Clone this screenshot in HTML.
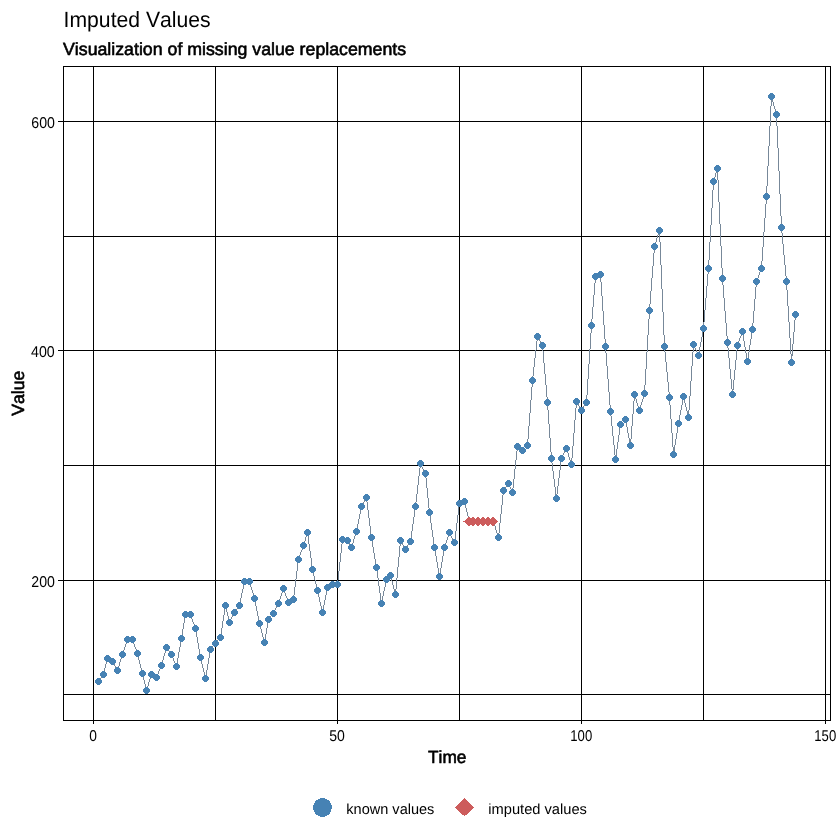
<!DOCTYPE html>
<html lang="en"><head><meta charset="utf-8"><title>Imputed Values</title>
<style>html,body{margin:0;padding:0;background:#fff}body{width:840px;height:840px;overflow:hidden}svg{display:block}text{font-family:"Liberation Sans",Arial,Helvetica,sans-serif;fill:#000;text-rendering:geometricPrecision;font-kerning:none}.b{stroke:#000;stroke-width:0.6px;stroke-linejoin:round}</style></head><body>
<svg width="840" height="840" viewBox="0 0 840 840">
<rect x="0" y="0" width="840" height="840" fill="#fff"/>
<g shape-rendering="crispEdges" fill="#000">
<rect x="93" y="66" width="1" height="655"/>
<rect x="215" y="66" width="1" height="655"/>
<rect x="337" y="66" width="1" height="655"/>
<rect x="459" y="66" width="1" height="655"/>
<rect x="581" y="66" width="1" height="655"/>
<rect x="703" y="66" width="1" height="655"/>
<rect x="825" y="66" width="1" height="655"/>
<rect x="63" y="121" width="768" height="1"/>
<rect x="63" y="236" width="768" height="1"/>
<rect x="63" y="350" width="768" height="1"/>
<rect x="63" y="465" width="768" height="1"/>
<rect x="63" y="580" width="768" height="1"/>
<rect x="63" y="694" width="768" height="1"/>
<rect x="63" y="66" width="768" height="1"/><rect x="63" y="720" width="768" height="1"/>
<rect x="63" y="66" width="1" height="655"/><rect x="830" y="66" width="1" height="655"/>
<rect x="93" y="721" width="1" height="3"/>
<rect x="337" y="721" width="1" height="3"/>
<rect x="581" y="721" width="1" height="3"/>
<rect x="825" y="721" width="1" height="3"/>
<rect x="58" y="121" width="5" height="1"/>
<rect x="58" y="350" width="5" height="1"/>
<rect x="58" y="580" width="5" height="1"/>
</g>
<g id="series-line" fill="#778899" shape-rendering="crispEdges">
<path d="M98,681h1v1h-1zM99,679h1v2h-1zM100,678h1v1h-1zM101,677h1v1h-1zM102,675h1v2h-1zM103,674h1v1h-1z"/>
<path d="M103,672h1v3h-1zM104,668h1v4h-1zM105,664h1v4h-1zM106,660h1v4h-1zM107,658h1v2h-1z"/>
<path d="M107,658v1h1v-1zM108,659v1h2v-1zM110,660v1h2v-1zM112,661v1h1v-1z"/>
<path d="M112,661h1v1h-1zM113,662h1v2h-1zM114,664h1v2h-1zM115,666h1v2h-1zM116,668h1v2h-1zM117,670h1v1h-1z"/>
<path d="M117,669h1v2h-1zM118,666h1v3h-1zM119,662h1v4h-1zM120,659h1v3h-1zM121,656h1v3h-1zM122,654h1v2h-1z"/>
<path d="M122,653h1v2h-1zM123,650h1v3h-1zM124,647h1v3h-1zM125,644h1v3h-1zM126,641h1v3h-1zM127,639h1v2h-1z"/>
<path d="M127,639v1h6v-1z"/>
<path d="M132,639h1v2h-1zM133,641h1v3h-1zM134,644h1v3h-1zM135,647h1v2h-1zM136,649h1v3h-1zM137,652h1v2h-1z"/>
<path d="M137,653h1v3h-1zM138,656h1v4h-1zM139,660h1v4h-1zM140,664h1v4h-1zM141,668h1v4h-1zM142,672h1v2h-1z"/>
<path d="M142,673h1v3h-1zM143,676h1v4h-1zM144,680h1v4h-1zM145,684h1v4h-1zM146,688h1v3h-1z"/>
<path d="M146,689h1v2h-1zM147,686h1v3h-1zM148,682h1v4h-1zM149,679h1v3h-1zM150,676h1v3h-1zM151,674h1v2h-1z"/>
<path d="M151,674v1h1v-1zM152,675v1h2v-1zM154,676v1h2v-1zM156,677v1h1v-1z"/>
<path d="M156,676h1v2h-1zM157,674h1v2h-1zM158,671h1v3h-1zM159,669h1v2h-1zM160,667h1v2h-1zM161,665h1v2h-1z"/>
<path d="M161,664h1v2h-1zM162,660h1v4h-1zM163,656h1v4h-1zM164,653h1v3h-1zM165,649h1v4h-1zM166,647h1v2h-1z"/>
<path d="M166,647h1v1h-1zM167,648h1v2h-1zM168,650h1v1h-1zM169,651h1v1h-1zM170,652h1v2h-1zM171,654h1v1h-1z"/>
<path d="M171,654h1v2h-1zM172,656h1v2h-1zM173,658h1v3h-1zM174,661h1v2h-1zM175,663h1v2h-1zM176,665h1v2h-1z"/>
<path d="M176,664h1v3h-1zM177,658h1v6h-1zM178,652h1v6h-1zM179,647h1v5h-1zM180,641h1v6h-1zM181,638h1v3h-1z"/>
<path d="M181,635h1v4h-1zM182,629h1v6h-1zM183,623h1v6h-1zM184,617h1v6h-1zM185,614h1v3h-1z"/>
<path d="M185,614v1h6v-1z"/>
<path d="M190,614h1v2h-1zM191,616h1v3h-1zM192,619h1v3h-1zM193,622h1v2h-1zM194,624h1v3h-1zM195,627h1v2h-1z"/>
<path d="M195,628h1v3h-1zM196,631h1v6h-1zM197,637h1v6h-1zM198,643h1v6h-1zM199,649h1v6h-1zM200,655h1v3h-1z"/>
<path d="M200,657h1v3h-1zM201,660h1v4h-1zM202,664h1v4h-1zM203,668h1v4h-1zM204,672h1v4h-1zM205,676h1v3h-1z"/>
<path d="M205,676h1v3h-1zM206,670h1v6h-1zM207,664h1v6h-1zM208,658h1v6h-1zM209,652h1v6h-1zM210,649h1v3h-1z"/>
<path d="M210,649h1v1h-1zM211,648h1v1h-1zM212,646h1v2h-1zM213,645h1v1h-1zM214,644h1v1h-1zM215,643h1v1h-1z"/>
<path d="M215,643h1v1h-1zM216,642h1v1h-1zM217,640h1v2h-1zM218,639h1v1h-1zM219,638h1v1h-1zM220,637h1v1h-1z"/>
<path d="M220,634h1v4h-1zM221,628h1v6h-1zM222,621h1v7h-1zM223,615h1v6h-1zM224,609h1v6h-1zM225,605h1v4h-1z"/>
<path d="M225,605h1v3h-1zM226,608h1v4h-1zM227,612h1v4h-1zM228,616h1v4h-1zM229,620h1v3h-1z"/>
<path d="M229,621h1v2h-1zM230,619h1v2h-1zM231,617h1v2h-1zM232,615h1v2h-1zM233,613h1v2h-1zM234,612h1v1h-1z"/>
<path d="M234,612h1v1h-1zM235,610h1v2h-1zM236,609h1v1h-1zM237,608h1v1h-1zM238,606h1v2h-1zM239,605h1v1h-1z"/>
<path d="M239,603h1v3h-1zM240,598h1v5h-1zM241,593h1v5h-1zM242,589h1v4h-1zM243,584h1v5h-1zM244,581h1v3h-1z"/>
<path d="M244,581v1h6v-1z"/>
<path d="M249,581h1v2h-1zM250,583h1v4h-1zM251,587h1v3h-1zM252,590h1v3h-1zM253,593h1v4h-1zM254,597h1v2h-1z"/>
<path d="M254,598h1v3h-1zM255,601h1v5h-1zM256,606h1v5h-1zM257,611h1v5h-1zM258,616h1v5h-1zM259,621h1v3h-1z"/>
<path d="M259,623h1v2h-1zM260,625h1v4h-1zM261,629h1v4h-1zM262,633h1v4h-1zM263,637h1v4h-1zM264,641h1v2h-1z"/>
<path d="M264,640h1v3h-1zM265,634h1v6h-1zM266,628h1v6h-1zM267,622h1v6h-1zM268,619h1v3h-1z"/>
<path d="M268,619h1v1h-1zM269,618h1v1h-1zM270,616h1v2h-1zM271,615h1v1h-1zM272,614h1v1h-1zM273,613h1v1h-1z"/>
<path d="M273,612h1v2h-1zM274,610h1v2h-1zM275,608h1v2h-1zM276,606h1v2h-1zM277,604h1v2h-1zM278,603h1v1h-1z"/>
<path d="M278,602h1v2h-1zM279,599h1v3h-1zM280,596h1v3h-1zM281,593h1v3h-1zM282,590h1v3h-1zM283,588h1v2h-1z"/>
<path d="M283,588h1v2h-1zM284,590h1v3h-1zM285,593h1v3h-1zM286,596h1v2h-1zM287,598h1v3h-1zM288,601h1v2h-1z"/>
<path d="M288,602v1h1v-1zM289,601v1h2v-1zM291,600v1h2v-1zM293,599v1h1v-1z"/>
<path d="M293,595h1v5h-1zM294,587h1v8h-1zM295,579h1v8h-1zM296,571h1v8h-1zM297,563h1v8h-1zM298,559h1v4h-1z"/>
<path d="M298,558h1v2h-1zM299,555h1v3h-1zM300,552h1v3h-1zM301,550h1v2h-1zM302,547h1v3h-1zM303,545h1v2h-1z"/>
<path d="M303,544h1v2h-1zM304,541h1v3h-1zM305,537h1v4h-1zM306,534h1v3h-1zM307,532h1v2h-1z"/>
<path d="M307,532h1v4h-1zM308,536h1v8h-1zM309,544h1v7h-1zM310,551h1v7h-1zM311,558h1v8h-1zM312,566h1v4h-1z"/>
<path d="M312,569h1v3h-1zM313,572h1v4h-1zM314,576h1v4h-1zM315,580h1v4h-1zM316,584h1v4h-1zM317,588h1v3h-1z"/>
<path d="M317,590h1v3h-1zM318,593h1v4h-1zM319,597h1v5h-1zM320,602h1v4h-1zM321,606h1v4h-1zM322,610h1v3h-1z"/>
<path d="M322,610h1v3h-1zM323,605h1v5h-1zM324,600h1v5h-1zM325,595h1v5h-1zM326,590h1v5h-1zM327,587h1v3h-1z"/>
<path d="M327,587v1h1v-1zM328,586v1h2v-1zM330,585v1h2v-1zM332,584v1h1v-1z"/>
<path d="M332,584v1h6v-1z"/>
<path d="M337,580h1v5h-1zM338,571h1v9h-1zM339,562h1v9h-1zM340,553h1v9h-1zM341,544h1v9h-1zM342,539h1v5h-1z"/>
<path d="M342,539v1h3v-1zM345,540v1h3v-1z"/>
<path d="M347,540h1v1h-1zM348,541h1v2h-1zM349,543h1v2h-1zM350,545h1v2h-1zM351,547h1v1h-1z"/>
<path d="M351,546h1v2h-1zM352,543h1v3h-1zM353,539h1v4h-1zM354,536h1v3h-1zM355,533h1v3h-1zM356,531h1v2h-1z"/>
<path d="M356,529h1v3h-1zM357,524h1v5h-1zM358,519h1v5h-1zM359,514h1v5h-1zM360,509h1v5h-1zM361,506h1v3h-1z"/>
<path d="M361,506h1v1h-1zM362,504h1v2h-1zM363,502h1v2h-1zM364,500h1v2h-1zM365,498h1v2h-1zM366,497h1v1h-1z"/>
<path d="M366,497h1v5h-1zM367,502h1v8h-1zM368,510h1v8h-1zM369,518h1v8h-1zM370,526h1v8h-1zM371,534h1v4h-1z"/>
<path d="M371,537h1v4h-1zM372,541h1v6h-1zM373,547h1v6h-1zM374,553h1v6h-1zM375,559h1v6h-1zM376,565h1v3h-1z"/>
<path d="M376,567h1v4h-1zM377,571h1v7h-1zM378,578h1v8h-1zM379,586h1v7h-1zM380,593h1v7h-1zM381,600h1v4h-1z"/>
<path d="M381,601h1v3h-1zM382,596h1v5h-1zM383,591h1v5h-1zM384,587h1v4h-1zM385,582h1v5h-1zM386,579h1v3h-1z"/>
<path d="M386,579h1v1h-1zM387,578h1v1h-1zM388,577h1v1h-1zM389,576h1v1h-1zM390,575h1v1h-1z"/>
<path d="M390,575h1v2h-1zM391,577h1v4h-1zM392,581h1v4h-1zM393,585h1v4h-1zM394,589h1v4h-1zM395,593h1v2h-1z"/>
<path d="M395,589h1v6h-1zM396,578h1v11h-1zM397,567h1v11h-1zM398,557h1v10h-1zM399,546h1v11h-1zM400,540h1v6h-1z"/>
<path d="M400,540h1v1h-1zM401,541h1v2h-1zM402,543h1v2h-1zM403,545h1v2h-1zM404,547h1v2h-1zM405,549h1v1h-1z"/>
<path d="M405,549h1v1h-1zM406,547h1v2h-1zM407,545h1v2h-1zM408,544h1v1h-1zM409,542h1v2h-1zM410,541h1v1h-1z"/>
<path d="M410,538h1v4h-1zM411,531h1v7h-1zM412,524h1v7h-1zM413,517h1v7h-1zM414,510h1v7h-1zM415,506h1v4h-1z"/>
<path d="M415,502h1v5h-1zM416,494h1v8h-1zM417,485h1v9h-1zM418,476h1v9h-1zM419,468h1v8h-1zM420,463h1v5h-1z"/>
<path d="M420,463h1v2h-1zM421,465h1v2h-1zM422,467h1v2h-1zM423,469h1v2h-1zM424,471h1v2h-1zM425,473h1v1h-1z"/>
<path d="M425,473h1v5h-1zM426,478h1v10h-1zM427,488h1v10h-1zM428,498h1v10h-1zM429,508h1v5h-1z"/>
<path d="M429,512h1v4h-1zM430,516h1v7h-1zM431,523h1v7h-1zM432,530h1v7h-1zM433,537h1v7h-1zM434,544h1v4h-1z"/>
<path d="M434,547h1v3h-1zM435,550h1v6h-1zM436,556h1v6h-1zM437,562h1v6h-1zM438,568h1v6h-1zM439,574h1v3h-1z"/>
<path d="M439,574h1v3h-1zM440,568h1v6h-1zM441,562h1v6h-1zM442,556h1v6h-1zM443,550h1v6h-1zM444,547h1v3h-1z"/>
<path d="M444,546h1v2h-1zM445,543h1v3h-1zM446,540h1v3h-1zM447,537h1v3h-1zM448,534h1v3h-1zM449,532h1v2h-1z"/>
<path d="M449,532h1v2h-1zM450,534h1v2h-1zM451,536h1v2h-1zM452,538h1v2h-1zM453,540h1v2h-1zM454,542h1v1h-1z"/>
<path d="M454,539h1v4h-1zM455,531h1v8h-1zM456,523h1v8h-1zM457,515h1v8h-1zM458,507h1v8h-1zM459,503h1v4h-1z"/>
<path d="M459,503v1h2v-1zM461,502v1h2v-1zM463,501v1h2v-1z"/>
<path d="M464,501h1v3h-1zM465,504h1v4h-1zM466,508h1v4h-1zM467,512h1v4h-1zM468,516h1v4h-1zM469,520h1v2h-1z"/>
<path d="M469,521v1h5v-1z"/>
<path d="M473,521v1h6v-1z"/>
<path d="M478,521v1h6v-1z"/>
<path d="M483,521v1h6v-1z"/>
<path d="M488,521v1h6v-1z"/>
<path d="M493,521h1v2h-1zM494,523h1v3h-1zM495,526h1v4h-1zM496,530h1v3h-1zM497,533h1v3h-1zM498,536h1v2h-1z"/>
<path d="M498,533h1v5h-1zM499,523h1v10h-1zM500,514h1v9h-1zM501,505h1v9h-1zM502,495h1v10h-1zM503,490h1v5h-1z"/>
<path d="M503,490h1v1h-1zM504,488h1v2h-1zM505,487h1v1h-1zM506,486h1v1h-1zM507,484h1v2h-1zM508,483h1v1h-1z"/>
<path d="M508,483h1v2h-1zM509,485h1v2h-1zM510,487h1v2h-1zM511,489h1v2h-1zM512,491h1v2h-1z"/>
<path d="M512,488h1v5h-1zM513,479h1v9h-1zM514,469h1v10h-1zM515,460h1v9h-1zM516,451h1v9h-1zM517,446h1v5h-1z"/>
<path d="M517,446v1h1v-1zM518,447v1h1v-1zM519,448v1h2v-1zM521,449v1h1v-1zM522,450v1h1v-1z"/>
<path d="M522,450h1v1h-1zM523,449h1v1h-1zM524,448h1v1h-1zM525,447h1v1h-1zM526,446h1v1h-1zM527,445h1v1h-1z"/>
<path d="M527,439h1v7h-1zM528,426h1v13h-1zM529,413h1v13h-1zM530,400h1v13h-1zM531,387h1v13h-1zM532,380h1v7h-1z"/>
<path d="M532,376h1v5h-1zM533,367h1v9h-1zM534,358h1v9h-1zM535,350h1v8h-1zM536,341h1v9h-1zM537,336h1v5h-1z"/>
<path d="M537,336h1v1h-1zM538,337h1v2h-1zM539,339h1v2h-1zM540,341h1v2h-1zM541,343h1v2h-1zM542,345h1v1h-1z"/>
<path d="M542,345h1v6h-1zM543,351h1v12h-1zM544,363h1v11h-1zM545,374h1v11h-1zM546,385h1v12h-1zM547,397h1v6h-1z"/>
<path d="M547,402h1v8h-1zM548,410h1v14h-1zM549,424h1v14h-1zM550,438h1v14h-1zM551,452h1v7h-1z"/>
<path d="M551,458h1v5h-1zM552,463h1v8h-1zM553,471h1v8h-1zM554,479h1v8h-1zM555,487h1v8h-1zM556,495h1v4h-1z"/>
<path d="M556,494h1v5h-1zM557,486h1v8h-1zM558,478h1v8h-1zM559,470h1v8h-1zM560,462h1v8h-1zM561,458h1v4h-1z"/>
<path d="M561,457h1v2h-1zM562,455h1v2h-1zM563,453h1v2h-1zM564,451h1v2h-1zM565,449h1v2h-1zM566,448h1v1h-1z"/>
<path d="M566,448h1v2h-1zM567,450h1v3h-1zM568,453h1v4h-1zM569,457h1v3h-1zM570,460h1v3h-1zM571,463h1v2h-1z"/>
<path d="M571,458h1v7h-1zM572,446h1v12h-1zM573,433h1v13h-1zM574,420h1v13h-1zM575,408h1v12h-1zM576,401h1v7h-1z"/>
<path d="M576,401h1v1h-1zM577,402h1v2h-1zM578,404h1v2h-1zM579,406h1v2h-1zM580,408h1v2h-1zM581,410h1v1h-1z"/>
<path d="M581,410h1v1h-1zM582,408h1v2h-1zM583,406h1v2h-1zM584,405h1v1h-1zM585,403h1v2h-1zM586,402h1v1h-1z"/>
<path d="M586,395h1v8h-1zM587,379h1v16h-1zM588,364h1v15h-1zM589,349h1v15h-1zM590,333h1v16h-1zM591,325h1v8h-1z"/>
<path d="M591,319h1v7h-1zM592,307h1v12h-1zM593,295h1v12h-1zM594,283h1v12h-1zM595,276h1v7h-1z"/>
<path d="M595,276v1h2v-1zM597,275v1h2v-1zM599,274v1h2v-1z"/>
<path d="M600,274h1v8h-1zM601,282h1v14h-1zM602,296h1v15h-1zM603,311h1v14h-1zM604,325h1v14h-1zM605,339h1v8h-1z"/>
<path d="M605,346h1v7h-1zM606,353h1v13h-1zM607,366h1v13h-1zM608,379h1v13h-1zM609,392h1v13h-1zM610,405h1v7h-1z"/>
<path d="M610,411h1v5h-1zM611,416h1v10h-1zM612,426h1v10h-1zM613,436h1v9h-1zM614,445h1v10h-1zM615,455h1v5h-1z"/>
<path d="M615,456h1v4h-1zM616,449h1v7h-1zM617,442h1v7h-1zM618,435h1v7h-1zM619,428h1v7h-1zM620,424h1v4h-1z"/>
<path d="M620,424h1v1h-1zM621,423h1v1h-1zM622,422h1v1h-1zM623,421h1v1h-1zM624,420h1v1h-1zM625,419h1v1h-1z"/>
<path d="M625,419h1v3h-1zM626,422h1v5h-1zM627,427h1v6h-1zM628,433h1v5h-1zM629,438h1v5h-1zM630,443h1v3h-1z"/>
<path d="M630,439h1v7h-1zM631,426h1v13h-1zM632,414h1v12h-1zM633,401h1v13h-1zM634,394h1v7h-1z"/>
<path d="M634,394h1v2h-1zM635,396h1v3h-1zM636,399h1v4h-1zM637,403h1v3h-1zM638,406h1v3h-1zM639,409h1v2h-1z"/>
<path d="M639,409h1v2h-1zM640,405h1v4h-1zM641,402h1v3h-1zM642,399h1v3h-1zM643,395h1v4h-1zM644,393h1v2h-1z"/>
<path d="M644,385h1v9h-1zM645,369h1v16h-1zM646,352h1v17h-1zM647,335h1v17h-1zM648,319h1v16h-1zM649,310h1v9h-1z"/>
<path d="M649,304h1v7h-1zM650,291h1v13h-1zM651,278h1v13h-1zM652,266h1v12h-1zM653,253h1v13h-1zM654,246h1v7h-1z"/>
<path d="M654,245h1v2h-1zM655,242h1v3h-1zM656,238h1v4h-1zM657,235h1v3h-1zM658,232h1v3h-1zM659,230h1v2h-1z"/>
<path d="M659,230h1v12h-1zM660,242h1v23h-1zM661,265h1v24h-1zM662,289h1v23h-1zM663,312h1v23h-1zM664,335h1v12h-1z"/>
<path d="M664,346h1v6h-1zM665,352h1v10h-1zM666,362h1v10h-1zM667,372h1v10h-1zM668,382h1v10h-1zM669,392h1v6h-1z"/>
<path d="M669,397h1v8h-1zM670,405h1v14h-1zM671,419h1v14h-1zM672,433h1v14h-1zM673,447h1v8h-1z"/>
<path d="M673,451h1v4h-1zM674,445h1v6h-1zM675,439h1v6h-1zM676,433h1v6h-1zM677,427h1v6h-1zM678,423h1v4h-1z"/>
<path d="M678,421h1v3h-1zM679,415h1v6h-1zM680,410h1v5h-1zM681,405h1v5h-1zM682,399h1v6h-1zM683,396h1v3h-1z"/>
<path d="M683,396h1v3h-1zM684,399h1v4h-1zM685,403h1v4h-1zM686,407h1v4h-1zM687,411h1v4h-1zM688,415h1v3h-1z"/>
<path d="M688,410h1v8h-1zM689,396h1v14h-1zM690,381h1v15h-1zM691,366h1v15h-1zM692,352h1v14h-1zM693,344h1v8h-1z"/>
<path d="M693,344h1v2h-1zM694,346h1v2h-1zM695,348h1v2h-1zM696,350h1v2h-1zM697,352h1v2h-1zM698,354h1v2h-1z"/>
<path d="M698,353h1v3h-1zM699,347h1v6h-1zM700,342h1v5h-1zM701,337h1v5h-1zM702,331h1v6h-1zM703,328h1v3h-1z"/>
<path d="M703,322h1v7h-1zM704,310h1v12h-1zM705,298h1v12h-1zM706,286h1v12h-1zM707,274h1v12h-1zM708,268h1v6h-1z"/>
<path d="M708,260h1v9h-1zM709,242h1v18h-1zM710,225h1v17h-1zM711,208h1v17h-1zM712,190h1v18h-1zM713,181h1v9h-1z"/>
<path d="M713,180h1v2h-1zM714,177h1v3h-1zM715,173h1v4h-1zM716,170h1v3h-1zM717,168h1v2h-1z"/>
<path d="M717,168h1v12h-1zM718,180h1v22h-1zM719,202h1v22h-1zM720,224h1v22h-1zM721,246h1v22h-1zM722,268h1v11h-1z"/>
<path d="M722,278h1v7h-1zM723,285h1v13h-1zM724,298h1v13h-1zM725,311h1v12h-1zM726,323h1v13h-1zM727,336h1v7h-1z"/>
<path d="M727,342h1v6h-1zM728,348h1v10h-1zM729,358h1v11h-1zM730,369h1v10h-1zM731,379h1v10h-1zM732,389h1v6h-1z"/>
<path d="M732,390h1v5h-1zM733,380h1v10h-1zM734,370h1v10h-1zM735,360h1v10h-1zM736,350h1v10h-1zM737,345h1v5h-1z"/>
<path d="M737,344h1v2h-1zM738,341h1v3h-1zM739,338h1v3h-1zM740,336h1v2h-1zM741,333h1v3h-1zM742,331h1v2h-1z"/>
<path d="M742,331h1v4h-1zM743,335h1v6h-1zM744,341h1v6h-1zM745,347h1v6h-1zM746,353h1v6h-1zM747,359h1v3h-1z"/>
<path d="M747,358h1v4h-1zM748,352h1v6h-1zM749,345h1v7h-1zM750,339h1v6h-1zM751,333h1v6h-1zM752,329h1v4h-1z"/>
<path d="M752,323h1v7h-1zM753,311h1v12h-1zM754,299h1v12h-1zM755,287h1v12h-1zM756,281h1v6h-1z"/>
<path d="M756,280h1v2h-1zM757,278h1v2h-1zM758,275h1v3h-1zM759,272h1v3h-1zM760,270h1v2h-1zM761,268h1v2h-1z"/>
<path d="M761,261h1v8h-1zM762,247h1v14h-1zM763,232h1v15h-1zM764,218h1v14h-1zM765,204h1v14h-1zM766,196h1v8h-1z"/>
<path d="M766,186h1v11h-1zM767,166h1v20h-1zM768,146h1v20h-1zM769,126h1v20h-1zM770,106h1v20h-1zM771,96h1v10h-1z"/>
<path d="M771,96h1v2h-1zM772,98h1v4h-1zM773,102h1v4h-1zM774,106h1v3h-1zM775,109h1v4h-1zM776,113h1v2h-1z"/>
<path d="M776,114h1v12h-1zM777,126h1v22h-1zM778,148h1v23h-1zM779,171h1v23h-1zM780,194h1v22h-1zM781,216h1v12h-1z"/>
<path d="M781,227h1v6h-1zM782,233h1v11h-1zM783,244h1v11h-1zM784,255h1v10h-1zM785,265h1v11h-1zM786,276h1v6h-1z"/>
<path d="M786,281h1v9h-1zM787,290h1v16h-1zM788,306h1v16h-1zM789,322h1v16h-1zM790,338h1v16h-1zM791,354h1v9h-1z"/>
<path d="M791,356h1v7h-1zM792,344h1v12h-1zM793,332h1v12h-1zM794,320h1v12h-1zM795,314h1v6h-1z"/>
</g>
<g id="known-values" fill="#4682B4" shape-rendering="crispEdges">
<path d="M97,678h3v1h1v1h1v3h-1v1h-1v1h-3v-1h-1v-1h-1v-3h1v-1h1z"/>
<path d="M102,671h3v1h1v1h1v3h-1v1h-1v1h-3v-1h-1v-1h-1v-3h1v-1h1z"/>
<path d="M106,655h3v1h1v1h1v3h-1v1h-1v1h-3v-1h-1v-1h-1v-3h1v-1h1z"/>
<path d="M111,658h3v1h1v1h1v3h-1v1h-1v1h-3v-1h-1v-1h-1v-3h1v-1h1z"/>
<path d="M116,667h3v1h1v1h1v3h-1v1h-1v1h-3v-1h-1v-1h-1v-3h1v-1h1z"/>
<path d="M121,651h3v1h1v1h1v3h-1v1h-1v1h-3v-1h-1v-1h-1v-3h1v-1h1z"/>
<path d="M126,636h3v1h1v1h1v3h-1v1h-1v1h-3v-1h-1v-1h-1v-3h1v-1h1z"/>
<path d="M131,636h3v1h1v1h1v3h-1v1h-1v1h-3v-1h-1v-1h-1v-3h1v-1h1z"/>
<path d="M136,650h3v1h1v1h1v3h-1v1h-1v1h-3v-1h-1v-1h-1v-3h1v-1h1z"/>
<path d="M141,670h3v1h1v1h1v3h-1v1h-1v1h-3v-1h-1v-1h-1v-3h1v-1h1z"/>
<path d="M145,687h3v1h1v1h1v3h-1v1h-1v1h-3v-1h-1v-1h-1v-3h1v-1h1z"/>
<path d="M150,671h3v1h1v1h1v3h-1v1h-1v1h-3v-1h-1v-1h-1v-3h1v-1h1z"/>
<path d="M155,674h3v1h1v1h1v3h-1v1h-1v1h-3v-1h-1v-1h-1v-3h1v-1h1z"/>
<path d="M160,662h3v1h1v1h1v3h-1v1h-1v1h-3v-1h-1v-1h-1v-3h1v-1h1z"/>
<path d="M165,644h3v1h1v1h1v3h-1v1h-1v1h-3v-1h-1v-1h-1v-3h1v-1h1z"/>
<path d="M170,651h3v1h1v1h1v3h-1v1h-1v1h-3v-1h-1v-1h-1v-3h1v-1h1z"/>
<path d="M175,663h3v1h1v1h1v3h-1v1h-1v1h-3v-1h-1v-1h-1v-3h1v-1h1z"/>
<path d="M180,635h3v1h1v1h1v3h-1v1h-1v1h-3v-1h-1v-1h-1v-3h1v-1h1z"/>
<path d="M184,611h3v1h1v1h1v3h-1v1h-1v1h-3v-1h-1v-1h-1v-3h1v-1h1z"/>
<path d="M189,611h3v1h1v1h1v3h-1v1h-1v1h-3v-1h-1v-1h-1v-3h1v-1h1z"/>
<path d="M194,625h3v1h1v1h1v3h-1v1h-1v1h-3v-1h-1v-1h-1v-3h1v-1h1z"/>
<path d="M199,654h3v1h1v1h1v3h-1v1h-1v1h-3v-1h-1v-1h-1v-3h1v-1h1z"/>
<path d="M204,675h3v1h1v1h1v3h-1v1h-1v1h-3v-1h-1v-1h-1v-3h1v-1h1z"/>
<path d="M209,646h3v1h1v1h1v3h-1v1h-1v1h-3v-1h-1v-1h-1v-3h1v-1h1z"/>
<path d="M214,640h3v1h1v1h1v3h-1v1h-1v1h-3v-1h-1v-1h-1v-3h1v-1h1z"/>
<path d="M219,634h3v1h1v1h1v3h-1v1h-1v1h-3v-1h-1v-1h-1v-3h1v-1h1z"/>
<path d="M224,602h3v1h1v1h1v3h-1v1h-1v1h-3v-1h-1v-1h-1v-3h1v-1h1z"/>
<path d="M228,619h3v1h1v1h1v3h-1v1h-1v1h-3v-1h-1v-1h-1v-3h1v-1h1z"/>
<path d="M233,609h3v1h1v1h1v3h-1v1h-1v1h-3v-1h-1v-1h-1v-3h1v-1h1z"/>
<path d="M238,602h3v1h1v1h1v3h-1v1h-1v1h-3v-1h-1v-1h-1v-3h1v-1h1z"/>
<path d="M243,578h3v1h1v1h1v3h-1v1h-1v1h-3v-1h-1v-1h-1v-3h1v-1h1z"/>
<path d="M248,578h3v1h1v1h1v3h-1v1h-1v1h-3v-1h-1v-1h-1v-3h1v-1h1z"/>
<path d="M253,595h3v1h1v1h1v3h-1v1h-1v1h-3v-1h-1v-1h-1v-3h1v-1h1z"/>
<path d="M258,620h3v1h1v1h1v3h-1v1h-1v1h-3v-1h-1v-1h-1v-3h1v-1h1z"/>
<path d="M263,639h3v1h1v1h1v3h-1v1h-1v1h-3v-1h-1v-1h-1v-3h1v-1h1z"/>
<path d="M267,616h3v1h1v1h1v3h-1v1h-1v1h-3v-1h-1v-1h-1v-3h1v-1h1z"/>
<path d="M272,610h3v1h1v1h1v3h-1v1h-1v1h-3v-1h-1v-1h-1v-3h1v-1h1z"/>
<path d="M277,600h3v1h1v1h1v3h-1v1h-1v1h-3v-1h-1v-1h-1v-3h1v-1h1z"/>
<path d="M282,585h3v1h1v1h1v3h-1v1h-1v1h-3v-1h-1v-1h-1v-3h1v-1h1z"/>
<path d="M287,599h3v1h1v1h1v3h-1v1h-1v1h-3v-1h-1v-1h-1v-3h1v-1h1z"/>
<path d="M292,596h3v1h1v1h1v3h-1v1h-1v1h-3v-1h-1v-1h-1v-3h1v-1h1z"/>
<path d="M297,556h3v1h1v1h1v3h-1v1h-1v1h-3v-1h-1v-1h-1v-3h1v-1h1z"/>
<path d="M302,542h3v1h1v1h1v3h-1v1h-1v1h-3v-1h-1v-1h-1v-3h1v-1h1z"/>
<path d="M306,529h3v1h1v1h1v3h-1v1h-1v1h-3v-1h-1v-1h-1v-3h1v-1h1z"/>
<path d="M311,566h3v1h1v1h1v3h-1v1h-1v1h-3v-1h-1v-1h-1v-3h1v-1h1z"/>
<path d="M316,587h3v1h1v1h1v3h-1v1h-1v1h-3v-1h-1v-1h-1v-3h1v-1h1z"/>
<path d="M321,609h3v1h1v1h1v3h-1v1h-1v1h-3v-1h-1v-1h-1v-3h1v-1h1z"/>
<path d="M326,584h3v1h1v1h1v3h-1v1h-1v1h-3v-1h-1v-1h-1v-3h1v-1h1z"/>
<path d="M331,581h3v1h1v1h1v3h-1v1h-1v1h-3v-1h-1v-1h-1v-3h1v-1h1z"/>
<path d="M336,581h3v1h1v1h1v3h-1v1h-1v1h-3v-1h-1v-1h-1v-3h1v-1h1z"/>
<path d="M341,536h3v1h1v1h1v3h-1v1h-1v1h-3v-1h-1v-1h-1v-3h1v-1h1z"/>
<path d="M346,537h3v1h1v1h1v3h-1v1h-1v1h-3v-1h-1v-1h-1v-3h1v-1h1z"/>
<path d="M350,544h3v1h1v1h1v3h-1v1h-1v1h-3v-1h-1v-1h-1v-3h1v-1h1z"/>
<path d="M355,528h3v1h1v1h1v3h-1v1h-1v1h-3v-1h-1v-1h-1v-3h1v-1h1z"/>
<path d="M360,503h3v1h1v1h1v3h-1v1h-1v1h-3v-1h-1v-1h-1v-3h1v-1h1z"/>
<path d="M365,494h3v1h1v1h1v3h-1v1h-1v1h-3v-1h-1v-1h-1v-3h1v-1h1z"/>
<path d="M370,534h3v1h1v1h1v3h-1v1h-1v1h-3v-1h-1v-1h-1v-3h1v-1h1z"/>
<path d="M375,564h3v1h1v1h1v3h-1v1h-1v1h-3v-1h-1v-1h-1v-3h1v-1h1z"/>
<path d="M380,600h3v1h1v1h1v3h-1v1h-1v1h-3v-1h-1v-1h-1v-3h1v-1h1z"/>
<path d="M385,576h3v1h1v1h1v3h-1v1h-1v1h-3v-1h-1v-1h-1v-3h1v-1h1z"/>
<path d="M389,572h3v1h1v1h1v3h-1v1h-1v1h-3v-1h-1v-1h-1v-3h1v-1h1z"/>
<path d="M394,591h3v1h1v1h1v3h-1v1h-1v1h-3v-1h-1v-1h-1v-3h1v-1h1z"/>
<path d="M399,537h3v1h1v1h1v3h-1v1h-1v1h-3v-1h-1v-1h-1v-3h1v-1h1z"/>
<path d="M404,546h3v1h1v1h1v3h-1v1h-1v1h-3v-1h-1v-1h-1v-3h1v-1h1z"/>
<path d="M409,538h3v1h1v1h1v3h-1v1h-1v1h-3v-1h-1v-1h-1v-3h1v-1h1z"/>
<path d="M414,503h3v1h1v1h1v3h-1v1h-1v1h-3v-1h-1v-1h-1v-3h1v-1h1z"/>
<path d="M419,460h3v1h1v1h1v3h-1v1h-1v1h-3v-1h-1v-1h-1v-3h1v-1h1z"/>
<path d="M424,470h3v1h1v1h1v3h-1v1h-1v1h-3v-1h-1v-1h-1v-3h1v-1h1z"/>
<path d="M428,509h3v1h1v1h1v3h-1v1h-1v1h-3v-1h-1v-1h-1v-3h1v-1h1z"/>
<path d="M433,544h3v1h1v1h1v3h-1v1h-1v1h-3v-1h-1v-1h-1v-3h1v-1h1z"/>
<path d="M438,573h3v1h1v1h1v3h-1v1h-1v1h-3v-1h-1v-1h-1v-3h1v-1h1z"/>
<path d="M443,544h3v1h1v1h1v3h-1v1h-1v1h-3v-1h-1v-1h-1v-3h1v-1h1z"/>
<path d="M448,529h3v1h1v1h1v3h-1v1h-1v1h-3v-1h-1v-1h-1v-3h1v-1h1z"/>
<path d="M453,539h3v1h1v1h1v3h-1v1h-1v1h-3v-1h-1v-1h-1v-3h1v-1h1z"/>
<path d="M458,500h3v1h1v1h1v3h-1v1h-1v1h-3v-1h-1v-1h-1v-3h1v-1h1z"/>
<path d="M463,498h3v1h1v1h1v3h-1v1h-1v1h-3v-1h-1v-1h-1v-3h1v-1h1z"/>
<path d="M497,534h3v1h1v1h1v3h-1v1h-1v1h-3v-1h-1v-1h-1v-3h1v-1h1z"/>
<path d="M502,487h3v1h1v1h1v3h-1v1h-1v1h-3v-1h-1v-1h-1v-3h1v-1h1z"/>
<path d="M507,480h3v1h1v1h1v3h-1v1h-1v1h-3v-1h-1v-1h-1v-3h1v-1h1z"/>
<path d="M511,489h3v1h1v1h1v3h-1v1h-1v1h-3v-1h-1v-1h-1v-3h1v-1h1z"/>
<path d="M516,443h3v1h1v1h1v3h-1v1h-1v1h-3v-1h-1v-1h-1v-3h1v-1h1z"/>
<path d="M521,447h3v1h1v1h1v3h-1v1h-1v1h-3v-1h-1v-1h-1v-3h1v-1h1z"/>
<path d="M526,442h3v1h1v1h1v3h-1v1h-1v1h-3v-1h-1v-1h-1v-3h1v-1h1z"/>
<path d="M531,377h3v1h1v1h1v3h-1v1h-1v1h-3v-1h-1v-1h-1v-3h1v-1h1z"/>
<path d="M536,333h3v1h1v1h1v3h-1v1h-1v1h-3v-1h-1v-1h-1v-3h1v-1h1z"/>
<path d="M541,342h3v1h1v1h1v3h-1v1h-1v1h-3v-1h-1v-1h-1v-3h1v-1h1z"/>
<path d="M546,399h3v1h1v1h1v3h-1v1h-1v1h-3v-1h-1v-1h-1v-3h1v-1h1z"/>
<path d="M550,455h3v1h1v1h1v3h-1v1h-1v1h-3v-1h-1v-1h-1v-3h1v-1h1z"/>
<path d="M555,495h3v1h1v1h1v3h-1v1h-1v1h-3v-1h-1v-1h-1v-3h1v-1h1z"/>
<path d="M560,455h3v1h1v1h1v3h-1v1h-1v1h-3v-1h-1v-1h-1v-3h1v-1h1z"/>
<path d="M565,445h3v1h1v1h1v3h-1v1h-1v1h-3v-1h-1v-1h-1v-3h1v-1h1z"/>
<path d="M570,461h3v1h1v1h1v3h-1v1h-1v1h-3v-1h-1v-1h-1v-3h1v-1h1z"/>
<path d="M575,398h3v1h1v1h1v3h-1v1h-1v1h-3v-1h-1v-1h-1v-3h1v-1h1z"/>
<path d="M580,407h3v1h1v1h1v3h-1v1h-1v1h-3v-1h-1v-1h-1v-3h1v-1h1z"/>
<path d="M585,399h3v1h1v1h1v3h-1v1h-1v1h-3v-1h-1v-1h-1v-3h1v-1h1z"/>
<path d="M590,322h3v1h1v1h1v3h-1v1h-1v1h-3v-1h-1v-1h-1v-3h1v-1h1z"/>
<path d="M594,273h3v1h1v1h1v3h-1v1h-1v1h-3v-1h-1v-1h-1v-3h1v-1h1z"/>
<path d="M599,271h3v1h1v1h1v3h-1v1h-1v1h-3v-1h-1v-1h-1v-3h1v-1h1z"/>
<path d="M604,343h3v1h1v1h1v3h-1v1h-1v1h-3v-1h-1v-1h-1v-3h1v-1h1z"/>
<path d="M609,408h3v1h1v1h1v3h-1v1h-1v1h-3v-1h-1v-1h-1v-3h1v-1h1z"/>
<path d="M614,456h3v1h1v1h1v3h-1v1h-1v1h-3v-1h-1v-1h-1v-3h1v-1h1z"/>
<path d="M619,421h3v1h1v1h1v3h-1v1h-1v1h-3v-1h-1v-1h-1v-3h1v-1h1z"/>
<path d="M624,416h3v1h1v1h1v3h-1v1h-1v1h-3v-1h-1v-1h-1v-3h1v-1h1z"/>
<path d="M629,442h3v1h1v1h1v3h-1v1h-1v1h-3v-1h-1v-1h-1v-3h1v-1h1z"/>
<path d="M633,391h3v1h1v1h1v3h-1v1h-1v1h-3v-1h-1v-1h-1v-3h1v-1h1z"/>
<path d="M638,407h3v1h1v1h1v3h-1v1h-1v1h-3v-1h-1v-1h-1v-3h1v-1h1z"/>
<path d="M643,390h3v1h1v1h1v3h-1v1h-1v1h-3v-1h-1v-1h-1v-3h1v-1h1z"/>
<path d="M648,307h3v1h1v1h1v3h-1v1h-1v1h-3v-1h-1v-1h-1v-3h1v-1h1z"/>
<path d="M653,243h3v1h1v1h1v3h-1v1h-1v1h-3v-1h-1v-1h-1v-3h1v-1h1z"/>
<path d="M658,227h3v1h1v1h1v3h-1v1h-1v1h-3v-1h-1v-1h-1v-3h1v-1h1z"/>
<path d="M663,343h3v1h1v1h1v3h-1v1h-1v1h-3v-1h-1v-1h-1v-3h1v-1h1z"/>
<path d="M668,394h3v1h1v1h1v3h-1v1h-1v1h-3v-1h-1v-1h-1v-3h1v-1h1z"/>
<path d="M672,451h3v1h1v1h1v3h-1v1h-1v1h-3v-1h-1v-1h-1v-3h1v-1h1z"/>
<path d="M677,420h3v1h1v1h1v3h-1v1h-1v1h-3v-1h-1v-1h-1v-3h1v-1h1z"/>
<path d="M682,393h3v1h1v1h1v3h-1v1h-1v1h-3v-1h-1v-1h-1v-3h1v-1h1z"/>
<path d="M687,414h3v1h1v1h1v3h-1v1h-1v1h-3v-1h-1v-1h-1v-3h1v-1h1z"/>
<path d="M692,341h3v1h1v1h1v3h-1v1h-1v1h-3v-1h-1v-1h-1v-3h1v-1h1z"/>
<path d="M697,352h3v1h1v1h1v3h-1v1h-1v1h-3v-1h-1v-1h-1v-3h1v-1h1z"/>
<path d="M702,325h3v1h1v1h1v3h-1v1h-1v1h-3v-1h-1v-1h-1v-3h1v-1h1z"/>
<path d="M707,265h3v1h1v1h1v3h-1v1h-1v1h-3v-1h-1v-1h-1v-3h1v-1h1z"/>
<path d="M712,178h3v1h1v1h1v3h-1v1h-1v1h-3v-1h-1v-1h-1v-3h1v-1h1z"/>
<path d="M716,165h3v1h1v1h1v3h-1v1h-1v1h-3v-1h-1v-1h-1v-3h1v-1h1z"/>
<path d="M721,275h3v1h1v1h1v3h-1v1h-1v1h-3v-1h-1v-1h-1v-3h1v-1h1z"/>
<path d="M726,339h3v1h1v1h1v3h-1v1h-1v1h-3v-1h-1v-1h-1v-3h1v-1h1z"/>
<path d="M731,391h3v1h1v1h1v3h-1v1h-1v1h-3v-1h-1v-1h-1v-3h1v-1h1z"/>
<path d="M736,342h3v1h1v1h1v3h-1v1h-1v1h-3v-1h-1v-1h-1v-3h1v-1h1z"/>
<path d="M741,328h3v1h1v1h1v3h-1v1h-1v1h-3v-1h-1v-1h-1v-3h1v-1h1z"/>
<path d="M746,358h3v1h1v1h1v3h-1v1h-1v1h-3v-1h-1v-1h-1v-3h1v-1h1z"/>
<path d="M751,326h3v1h1v1h1v3h-1v1h-1v1h-3v-1h-1v-1h-1v-3h1v-1h1z"/>
<path d="M755,278h3v1h1v1h1v3h-1v1h-1v1h-3v-1h-1v-1h-1v-3h1v-1h1z"/>
<path d="M760,265h3v1h1v1h1v3h-1v1h-1v1h-3v-1h-1v-1h-1v-3h1v-1h1z"/>
<path d="M765,193h3v1h1v1h1v3h-1v1h-1v1h-3v-1h-1v-1h-1v-3h1v-1h1z"/>
<path d="M770,93h3v1h1v1h1v3h-1v1h-1v1h-3v-1h-1v-1h-1v-3h1v-1h1z"/>
<path d="M775,111h3v1h1v1h1v3h-1v1h-1v1h-3v-1h-1v-1h-1v-3h1v-1h1z"/>
<path d="M780,224h3v1h1v1h1v3h-1v1h-1v1h-3v-1h-1v-1h-1v-3h1v-1h1z"/>
<path d="M785,278h3v1h1v1h1v3h-1v1h-1v1h-3v-1h-1v-1h-1v-3h1v-1h1z"/>
<path d="M790,359h3v1h1v1h1v3h-1v1h-1v1h-3v-1h-1v-1h-1v-3h1v-1h1z"/>
<path d="M794,311h3v1h1v1h1v3h-1v1h-1v1h-3v-1h-1v-1h-1v-3h1v-1h1z"/>
</g>
<g id="imputed-values" fill="#CD5C5C" shape-rendering="crispEdges">
<path d="M468,517h2v1h1v1h1v1h1v1h1v1h-1v1h-1v1h-1v1h-1v1h-2v-1h-1v-1h-1v-1h-1v-1h-2v-1h2v-1h1v-1h1v-1h1z"/>
<path d="M472,517h2v1h1v1h1v1h1v1h1v1h-1v1h-1v1h-1v1h-1v1h-2v-1h-1v-1h-1v-1h-1v-1h-2v-1h2v-1h1v-1h1v-1h1z"/>
<path d="M477,517h2v1h1v1h1v1h1v1h1v1h-1v1h-1v1h-1v1h-1v1h-2v-1h-1v-1h-1v-1h-1v-1h-2v-1h2v-1h1v-1h1v-1h1z"/>
<path d="M482,517h2v1h1v1h1v1h1v1h1v1h-1v1h-1v1h-1v1h-1v1h-2v-1h-1v-1h-1v-1h-1v-1h-2v-1h2v-1h1v-1h1v-1h1z"/>
<path d="M487,517h2v1h1v1h1v1h1v1h1v1h-1v1h-1v1h-1v1h-1v1h-2v-1h-1v-1h-1v-1h-1v-1h-2v-1h2v-1h1v-1h1v-1h1z"/>
<path d="M492,517h2v1h1v1h1v1h1v1h1v1h-1v1h-1v1h-1v1h-1v1h-2v-1h-1v-1h-1v-1h-1v-1h-2v-1h2v-1h1v-1h1v-1h1z"/>
</g>
<circle cx="322.5" cy="807.5" r="9.4" fill="#4682B4" shape-rendering="crispEdges"/>
<polygon points="455,807.5 464.5,798 474,807.5 464.5,816.4" fill="#CD5C5C" shape-rendering="crispEdges"/>
<text transform="translate(63.6,27) scale(0.9618,1)" font-size="22">Imputed Values</text>
<text class="b" transform="translate(63.0,55) scale(1.0082,1)" font-size="17.6">Visualization of missing value replacements</text>
<text transform="translate(31.3,128) scale(0.9066,1)" font-size="15.6">600</text>
<text transform="translate(31.0,357) scale(0.9105,1)" font-size="15.6">400</text>
<text transform="translate(31.3,587) scale(0.9066,1)" font-size="15.6">200</text>
<text transform="translate(89.3,741) scale(0.8833,1)" font-size="15.6">0</text>
<text transform="translate(329.3,741) scale(0.9,1)" font-size="15.6">50</text>
<text transform="translate(570.3,741) scale(0.841,1)" font-size="15.6">100</text>
<text transform="translate(814.3,741) scale(0.841,1)" font-size="15.6">150</text>
<text class="b" transform="translate(428.0,763) scale(0.9816,1)" font-size="17.6">Time</text>
<text class="b" transform="translate(24,415.7) rotate(-90)" font-size="17.6">Value</text>
<text transform="translate(346.3,814) scale(0.992,1)" font-size="14.67">known values</text>
<text transform="translate(488.3,814)" font-size="14.67">imputed values</text>
</svg></body></html>
